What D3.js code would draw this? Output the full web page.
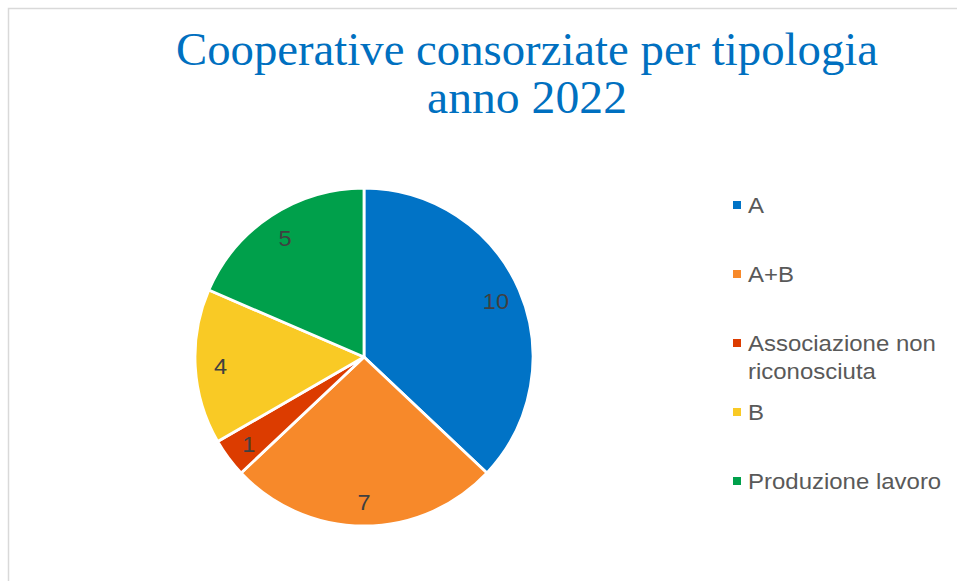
<!DOCTYPE html>
<html>
<head>
<meta charset="utf-8">
<script src="https://cdn.jsdelivr.net/npm/d3@7"></script>
<style>
  html, body { margin: 0; padding: 0; background: #fff; }
  svg { display: block; }
</style>
</head>
<body>
<svg id="chart" width="957" height="581"></svg>
<script>
// Cooperative consorziate per tipologia, anno 2022
const categories = ["A", "A+B", "Associazione non riconosciuta", "B", "Produzione lavoro"];
const values = [10, 7, 1, 4, 5];
const colors = ["#0173C6", "#F7892A", "#DC3C00", "#F9CA25", "#00A04B"];
const legendLines = [["A"], ["A+B"], ["Associazione non", "riconosciuta"], ["B"], ["Produzione lavoro"]];
const titleLines = ["Cooperative consorziate per tipologia", "anno 2022"];
const titleWidths = [702, 200];

const svg = d3.select("#chart");
const W = 957, H = 581;

// chart area frame (top and left edges visible)
svg.append("path")
  .attr("d", `M8.5,${H} L8.5,8.5 L${W},8.5`)
  .attr("fill", "none")
  .attr("stroke", "#D9D9D9")
  .attr("stroke-width", 1.5);

// title
svg.append("g")
  .selectAll("text")
  .data(titleLines)
  .join("text")
  .attr("x", 527)
  .attr("y", (d, i) => 65 + i * 48)
  .attr("text-anchor", "middle")
  .attr("font-family", "'Liberation Serif', 'Times New Roman', serif")
  .attr("font-size", 47)
  .attr("fill", "#0070C0")
  .attr("textLength", (d, i) => titleWidths[i])
  .attr("lengthAdjust", "spacingAndGlyphs")
  .text(d => d);

// pie
const cx = 364, cy = 357, r = 169;
const pie = d3.pie().sort(null).value(d => d)(values);
const arc = d3.arc().innerRadius(0).outerRadius(r);
const labelArc = d3.arc().innerRadius(r * 0.85).outerRadius(r * 0.85);

const g = svg.append("g").attr("transform", `translate(${cx},${cy})`);

g.selectAll("path.slice")
  .data(pie)
  .join("path")
  .attr("class", "slice")
  .attr("d", arc)
  .attr("fill", (d, i) => colors[i])
  .attr("stroke", "#fff")
  .attr("stroke-width", 2.8)
  .attr("stroke-linejoin", "round");

g.selectAll("text.value")
  .data(pie)
  .join("text")
  .attr("class", "value")
  .attr("transform", d => { const [x, y] = labelArc.centroid(d); return `translate(${x},${y + 1}) scale(1.07,1)`; })
  .attr("text-anchor", "middle")
  .attr("dy", "0.36em")
  .attr("font-family", "'Liberation Sans', Arial, sans-serif")
  .attr("font-size", 22)
  .attr("fill", "#404040")
  .text(d => d.data);

// legend
const legend = svg.append("g");
const rowY = d3.scalePoint().domain(categories).range([205, 481]);

const item = legend.selectAll("g.item")
  .data(categories)
  .join("g")
  .attr("class", "item")
  .attr("transform", d => `translate(733,${rowY(d)})`);

item.append("rect")
  .attr("x", 0)
  .attr("y", -4)
  .attr("width", 8)
  .attr("height", 8)
  .attr("fill", (d, i) => colors[i]);

item.append("text")
  .attr("transform", "translate(15,0) scale(1.09,1)")
  .attr("font-family", "'Liberation Sans', Arial, sans-serif")
  .attr("font-size", 22)
  .attr("fill", "#595959")
  .selectAll("tspan")
  .data((d, i) => legendLines[i])
  .join("tspan")
  .attr("x", 0)
  .attr("y", (d, j) => 8 + j * 28)
  .text(d => d);
</script>
</body>
</html>
